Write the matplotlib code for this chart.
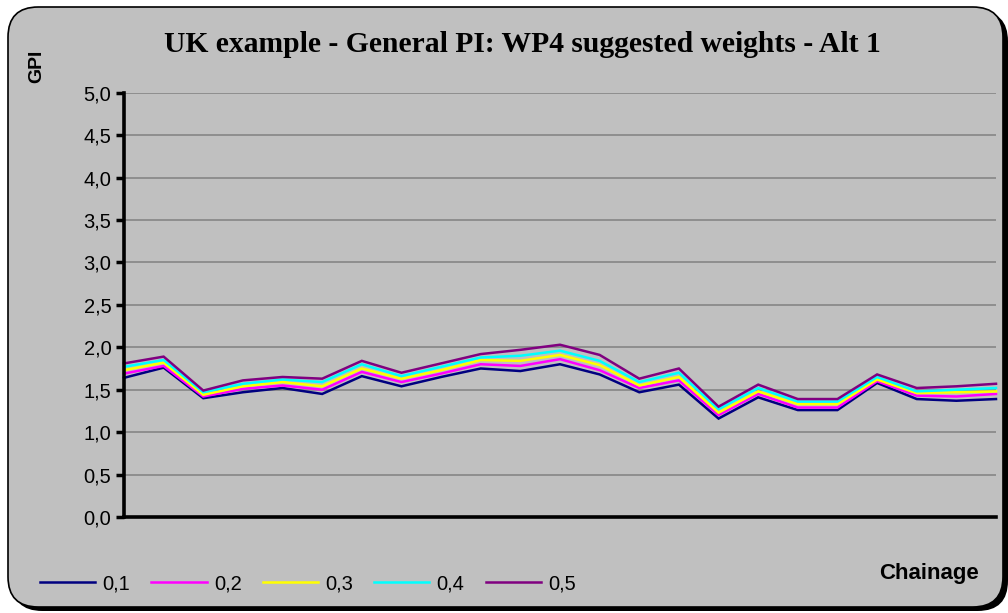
import matplotlib
matplotlib.use("Agg")
import matplotlib.pyplot as plt
from matplotlib.patches import FancyBboxPatch
from matplotlib.lines import Line2D

title = "UK example - General PI: WP4 suggested weights - Alt 1"
series_names = ["0,1", "0,2", "0,3", "0,4", "0,5"]
series_colors = ["#000080", "#FF00FF", "#FFFF00", "#00FFFF", "#800080"]
y_ticks = [0.0, 0.5, 1.0, 1.5, 2.0, 2.5, 3.0, 3.5, 4.0, 4.5, 5.0]
y_tick_labels = ["0,0", "0,5", "1,0", "1,5", "2,0", "2,5", "3,0", "3,5", "4,0", "4,5", "5,0"]

s01 = [1.64, 1.76, 1.40, 1.47, 1.52, 1.45, 1.66, 1.54, 1.65, 1.75, 1.72, 1.80,
       1.68, 1.47, 1.56, 1.16, 1.41, 1.26, 1.26, 1.58, 1.39, 1.37, 1.39]
s02 = [1.69, 1.78, 1.42, 1.51, 1.55, 1.50, 1.71, 1.59, 1.69, 1.80, 1.78, 1.86,
       1.73, 1.52, 1.61, 1.20, 1.45, 1.29, 1.29, 1.60, 1.43, 1.42, 1.45]
s03 = [1.73, 1.82, 1.44, 1.54, 1.59, 1.54, 1.75, 1.63, 1.73, 1.85, 1.84, 1.91,
       1.79, 1.55, 1.65, 1.23, 1.48, 1.33, 1.33, 1.62, 1.46, 1.47, 1.48]
s04 = [1.77, 1.85, 1.47, 1.57, 1.62, 1.59, 1.80, 1.66, 1.77, 1.88, 1.90, 1.96,
       1.84, 1.59, 1.70, 1.27, 1.52, 1.36, 1.36, 1.65, 1.48, 1.50, 1.52]
s05 = [1.81, 1.89, 1.49, 1.61, 1.65, 1.63, 1.84, 1.70, 1.81, 1.92, 1.97, 2.03,
       1.91, 1.63, 1.75, 1.30, 1.56, 1.39, 1.39, 1.68, 1.52, 1.54, 1.57]
series = [s01, s02, s03, s04, s05]

W, H = 1008, 613
fig = plt.figure(figsize=(W / 100, H / 100), dpi=100)
fig.patch.set_facecolor("white")

def fx(px):
    return px / W

def fy(py):
    return 1 - py / H

# chart frame with shadow
shadow = FancyBboxPatch((fx(12), fy(611)), fx(996), (611 - 11) / H,
                        boxstyle="round,pad=0,rounding_size=0.03",
                        transform=fig.transFigure, facecolor="black",
                        edgecolor="black", lw=0, zorder=-3,
                        mutation_aspect=W / H)
fig.patches.append(shadow)
frame = FancyBboxPatch((fx(8), fy(607)), fx(995), (607 - 7) / H,
                       boxstyle="round,pad=0,rounding_size=0.03",
                       transform=fig.transFigure, facecolor="#C0C0C0",
                       edgecolor="black", lw=1.2, zorder=-2,
                       mutation_aspect=W / H)
fig.patches.append(frame)

ax = fig.add_axes([fx(124), fy(517), fx(996 - 124), (517 - 92.7) / H])
ax.patch.set_alpha(0)

x = list(range(len(s01)))
for vals, name, col in zip(series, series_names, series_colors):
    ax.plot(x, vals, color=col, lw=1.8, label=name, zorder=3,
            solid_joinstyle="miter", clip_on=False)

ax.set_xlim(0, len(s01) - 1)
ax.set_ylim(0, 5)
ax.set_yticks(y_ticks)
ax.set_yticklabels(y_tick_labels, fontsize=14.5, fontfamily="Liberation Sans")
ax.set_xticks([])
ax.yaxis.grid(True, color="#8a8a8a", lw=1.3, zorder=1)
ax.set_axisbelow(True)
ax.tick_params(axis="y", length=6, width=2.5, pad=3, direction="out")
for side in ["top", "right"]:
    ax.spines[side].set_visible(False)
ax.spines["left"].set_linewidth(2.6)
ax.spines["bottom"].set_linewidth(2.6)
ax.spines["left"].set_zorder(4)
ax.spines["bottom"].set_zorder(4)

fig.text(fx(522), fy(52), title, ha="center", va="baseline",
         fontsize=21.3, fontweight="bold", fontfamily="Liberation Serif")
fig.text(fx(37), fy(66), "GPI", ha="center", va="center", rotation=90,
         fontsize=14, fontweight="bold", fontfamily="Liberation Sans")
fig.text(fx(929), fy(573), "Chainage", ha="center", va="center",
         fontsize=16, fontweight="bold", fontfamily="Liberation Sans")

# legend
handles = [Line2D([0], [0], color=c, lw=1.8) for c in series_colors]
leg = fig.legend(handles, series_names, loc="center left",
                 bbox_to_anchor=(fx(40), fy(584)), ncol=5, frameon=False,
                 prop={"family": "Liberation Sans", "size": 14.5},
                 handlelength=2.75, handletextpad=0.35, columnspacing=1.05,
                 borderpad=0, borderaxespad=0)

fig.savefig("out.png", dpi=100, facecolor="white")
